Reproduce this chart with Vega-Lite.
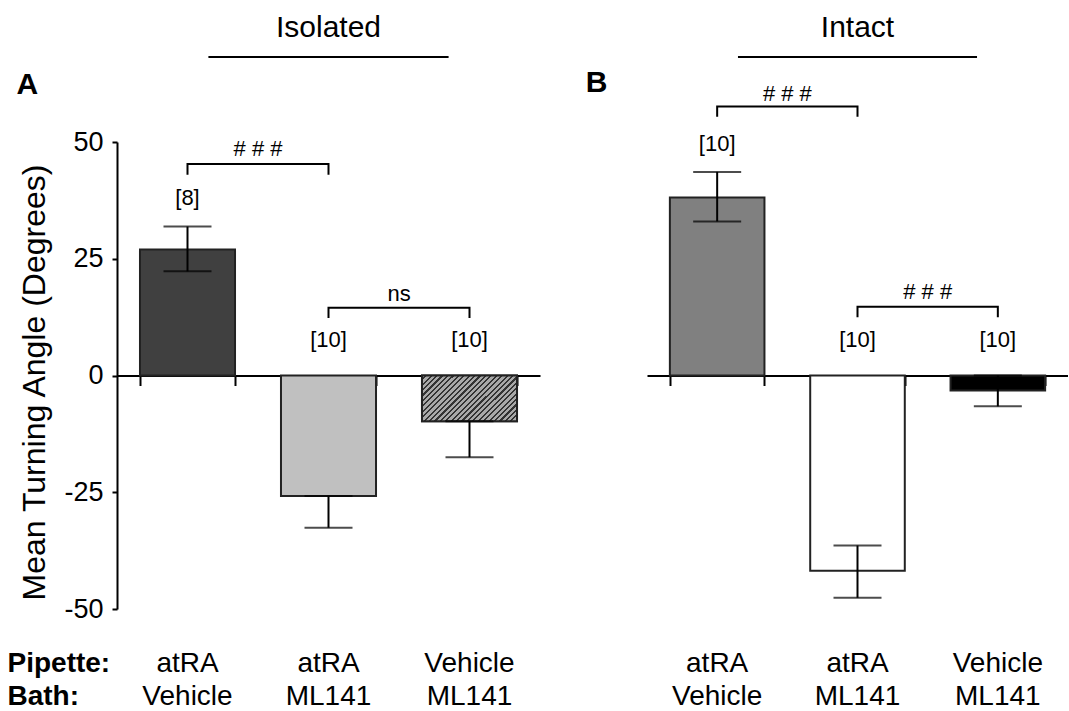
{
  "$schema": "https://vega.github.io/schema/vega-lite/v6.json",
  "background": "white",
  "padding": {"left": 7, "top": 12, "right": 0, "bottom": 0},
  "bounds": "flush",
  "spacing": 107,
  "config": {"font": "Liberation Sans", "view": {"stroke": null}},
  "resolve": {"scale": {"fill": "independent"}},
  "datasets": {
    "bars": [
      {"panel": "Isolated", "cond": "atRA / Vehicle", "mean": 27.0, "lo": 22.3, "hi": 31.9},
      {"panel": "Isolated", "cond": "atRA / ML141", "mean": -25.8, "lo": -32.6, "hi": -25.8},
      {"panel": "Isolated", "cond": "Vehicle / ML141", "mean": -9.8, "lo": -17.5, "hi": -9.8},
      {"panel": "Intact", "cond": "atRA / Vehicle", "mean": 38.1, "lo": 33.0, "hi": 43.6},
      {"panel": "Intact", "cond": "atRA / ML141", "mean": -41.8, "lo": -47.6, "hi": -36.4},
      {"panel": "Intact", "cond": "Vehicle / ML141", "mean": -3.2, "lo": -6.6, "hi": 0}
    ],
    "nlabels": [
      {"panel": "Isolated", "cond": "atRA / Vehicle", "text": "[8]", "y": 38},
      {"panel": "Isolated", "cond": "atRA / ML141", "text": "[10]", "y": 7.5},
      {"panel": "Isolated", "cond": "Vehicle / ML141", "text": "[10]", "y": 7.5},
      {"panel": "Intact", "cond": "atRA / Vehicle", "text": "[10]", "y": 49.6},
      {"panel": "Intact", "cond": "atRA / ML141", "text": "[10]", "y": 7.5},
      {"panel": "Intact", "cond": "Vehicle / ML141", "text": "[10]", "y": 7.5}
    ],
    "brackets": [
      {"panel": "Isolated", "id": "A1", "cond": "atRA / Vehicle", "y": 43.0, "k": 0},
      {"panel": "Isolated", "id": "A1", "cond": "atRA / Vehicle", "y": 45.3, "k": 1},
      {"panel": "Isolated", "id": "A1", "cond": "atRA / ML141", "y": 45.3, "k": 2},
      {"panel": "Isolated", "id": "A1", "cond": "atRA / ML141", "y": 43.0, "k": 3},
      {"panel": "Isolated", "id": "A2", "cond": "atRA / ML141", "y": 12.3, "k": 0},
      {"panel": "Isolated", "id": "A2", "cond": "atRA / ML141", "y": 14.5, "k": 1},
      {"panel": "Isolated", "id": "A2", "cond": "Vehicle / ML141", "y": 14.5, "k": 2},
      {"panel": "Isolated", "id": "A2", "cond": "Vehicle / ML141", "y": 12.3, "k": 3},
      {"panel": "Intact", "id": "B1", "cond": "atRA / Vehicle", "y": 55.4, "k": 0},
      {"panel": "Intact", "id": "B1", "cond": "atRA / Vehicle", "y": 57.6, "k": 1},
      {"panel": "Intact", "id": "B1", "cond": "atRA / ML141", "y": 57.6, "k": 2},
      {"panel": "Intact", "id": "B1", "cond": "atRA / ML141", "y": 55.4, "k": 3},
      {"panel": "Intact", "id": "B2", "cond": "atRA / ML141", "y": 12.5, "k": 0},
      {"panel": "Intact", "id": "B2", "cond": "atRA / ML141", "y": 14.7, "k": 1},
      {"panel": "Intact", "id": "B2", "cond": "Vehicle / ML141", "y": 14.7, "k": 2},
      {"panel": "Intact", "id": "B2", "cond": "Vehicle / ML141", "y": 12.5, "k": 3}
    ],
    "bracketLabels": [
      {"panel": "Isolated", "left": "atRA / Vehicle", "text": "# # #", "y": 48.6},
      {"panel": "Isolated", "left": "atRA / ML141", "text": "ns", "y": 17.5},
      {"panel": "Intact", "left": "atRA / Vehicle", "text": "# # #", "y": 60.3},
      {"panel": "Intact", "left": "atRA / ML141", "text": "# # #", "y": 17.9}
    ],
    "headers": [
      {"panel": "Isolated", "letter": "A", "first": "atRA / Vehicle", "mid": "atRA / ML141", "last": "Vehicle / ML141", "ytitle": 74.5, "yline": 68.2, "yletter": 62.3},
      {"panel": "Intact", "letter": "B", "first": "atRA / Vehicle", "mid": "atRA / ML141", "last": "Vehicle / ML141", "ytitle": 74.5, "yline": 68.2, "yletter": 62.7}
    ]
  },
  "hconcat": [
    {
      "width": 423,
      "height": 467,
      "resolve": {"axis": {"x": "independent"}},
      "layer": [
        {
          "data": {"name": "bars"},
          "transform": [{"filter": "datum.panel == 'Isolated'"}],
          "mark": {"type": "bar", "stroke": "#222222", "strokeWidth": 2},
          "encoding": {
            "x": {
              "field": "cond", "type": "nominal",
              "scale": {"domain": ["atRA / Vehicle", "atRA / ML141", "Vehicle / ML141"], "paddingInner": 0.326, "paddingOuter": 0.163},
              "axis": {
                "orient": "bottom", "domain": false, "ticks": false, "tickSize": 0, "grid": false,
                "labelExpr": "split(datum.value, ' / ')", "labelAngle": 0,
                "labelFontSize": 28, "labelColor": "black", "labelPadding": 40, "labelBaseline": "top", "labelLineHeight": 33,
                "title": ["Pipette:", "Bath:"], "titleFontSize": 28, "titleFontWeight": "bold", "titleColor": "black",
                "titleX": -110, "titleY": 40, "titleAlign": "left", "titleBaseline": "top", "titleAngle": 0, "titleLineHeight": 33
              }
            },
            "y": {
              "field": "mean", "type": "quantitative", "title": "Mean Turning Angle (Degrees)",
              "scale": {"domain": [-50, 50], "nice": false},
              "axis": {
                "values": [-50, -25, 0, 25, 50], "grid": false, "labelFlush": false, "labelOverlap": false,
                "labelExpr": "'' + datum.value",
                "title": "Mean Turning Angle (Degrees)", "titleFontSize": 32, "titleFontWeight": "normal", "titleColor": "black", "titlePadding": 12, "titleY": 240,
                "labelFontSize": 27, "labelColor": "black", "labelPadding": 9,
                "tickSize": 5, "tickWidth": 2, "tickColor": "black", "domainColor": "black", "domainWidth": 2
              }
            },
            "fill": {
              "field": "cond", "type": "nominal",
              "scale": {"domain": ["atRA / Vehicle", "atRA / ML141", "Vehicle / ML141"], "range": ["#404040", "#c0c0c0", "#a8a8a8"]},
              "legend": null
            }
          }
        },
        {
          "data": {"name": "bars"},
          "transform": [{"filter": "datum.panel == 'Isolated' && datum.cond == 'Vehicle / ML141'"}],
          "mark": {
            "type": "bar", "stroke": "#222222", "strokeWidth": 2,
            "fill": {
              "gradient": "linear", "x1": 0, "y1": 0, "x2": 1.203, "y2": 0.58,
              "stops": [
                {"offset": 0, "color": "#a8a8a8"}, {"offset": 0.0231, "color": "#a8a8a8"}, {"offset": 0.0231, "color": "#333333"}, {"offset": 0.0385, "color": "#333333"},
                {"offset": 0.0385, "color": "#a8a8a8"}, {"offset": 0.0615, "color": "#a8a8a8"}, {"offset": 0.0615, "color": "#333333"}, {"offset": 0.0769, "color": "#333333"},
                {"offset": 0.0769, "color": "#a8a8a8"}, {"offset": 0.1, "color": "#a8a8a8"}, {"offset": 0.1, "color": "#333333"}, {"offset": 0.1154, "color": "#333333"},
                {"offset": 0.1154, "color": "#a8a8a8"}, {"offset": 0.1385, "color": "#a8a8a8"}, {"offset": 0.1385, "color": "#333333"}, {"offset": 0.1538, "color": "#333333"},
                {"offset": 0.1538, "color": "#a8a8a8"}, {"offset": 0.1769, "color": "#a8a8a8"}, {"offset": 0.1769, "color": "#333333"}, {"offset": 0.1923, "color": "#333333"},
                {"offset": 0.1923, "color": "#a8a8a8"}, {"offset": 0.2154, "color": "#a8a8a8"}, {"offset": 0.2154, "color": "#333333"}, {"offset": 0.2308, "color": "#333333"},
                {"offset": 0.2308, "color": "#a8a8a8"}, {"offset": 0.2538, "color": "#a8a8a8"}, {"offset": 0.2538, "color": "#333333"}, {"offset": 0.2692, "color": "#333333"},
                {"offset": 0.2692, "color": "#a8a8a8"}, {"offset": 0.2923, "color": "#a8a8a8"}, {"offset": 0.2923, "color": "#333333"}, {"offset": 0.3077, "color": "#333333"},
                {"offset": 0.3077, "color": "#a8a8a8"}, {"offset": 0.3308, "color": "#a8a8a8"}, {"offset": 0.3308, "color": "#333333"}, {"offset": 0.3462, "color": "#333333"},
                {"offset": 0.3462, "color": "#a8a8a8"}, {"offset": 0.3692, "color": "#a8a8a8"}, {"offset": 0.3692, "color": "#333333"}, {"offset": 0.3846, "color": "#333333"},
                {"offset": 0.3846, "color": "#a8a8a8"}, {"offset": 0.4077, "color": "#a8a8a8"}, {"offset": 0.4077, "color": "#333333"}, {"offset": 0.4231, "color": "#333333"},
                {"offset": 0.4231, "color": "#a8a8a8"}, {"offset": 0.4462, "color": "#a8a8a8"}, {"offset": 0.4462, "color": "#333333"}, {"offset": 0.4615, "color": "#333333"},
                {"offset": 0.4615, "color": "#a8a8a8"}, {"offset": 0.4846, "color": "#a8a8a8"}, {"offset": 0.4846, "color": "#333333"}, {"offset": 0.5, "color": "#333333"},
                {"offset": 0.5, "color": "#a8a8a8"}, {"offset": 0.5231, "color": "#a8a8a8"}, {"offset": 0.5231, "color": "#333333"}, {"offset": 0.5385, "color": "#333333"},
                {"offset": 0.5385, "color": "#a8a8a8"}, {"offset": 0.5615, "color": "#a8a8a8"}, {"offset": 0.5615, "color": "#333333"}, {"offset": 0.5769, "color": "#333333"},
                {"offset": 0.5769, "color": "#a8a8a8"}, {"offset": 0.6, "color": "#a8a8a8"}, {"offset": 0.6, "color": "#333333"}, {"offset": 0.6154, "color": "#333333"},
                {"offset": 0.6154, "color": "#a8a8a8"}, {"offset": 0.6385, "color": "#a8a8a8"}, {"offset": 0.6385, "color": "#333333"}, {"offset": 0.6538, "color": "#333333"},
                {"offset": 0.6538, "color": "#a8a8a8"}, {"offset": 0.6769, "color": "#a8a8a8"}, {"offset": 0.6769, "color": "#333333"}, {"offset": 0.6923, "color": "#333333"},
                {"offset": 0.6923, "color": "#a8a8a8"}, {"offset": 0.7154, "color": "#a8a8a8"}, {"offset": 0.7154, "color": "#333333"}, {"offset": 0.7308, "color": "#333333"},
                {"offset": 0.7308, "color": "#a8a8a8"}, {"offset": 0.7538, "color": "#a8a8a8"}, {"offset": 0.7538, "color": "#333333"}, {"offset": 0.7692, "color": "#333333"},
                {"offset": 0.7692, "color": "#a8a8a8"}, {"offset": 0.7923, "color": "#a8a8a8"}, {"offset": 0.7923, "color": "#333333"}, {"offset": 0.8077, "color": "#333333"},
                {"offset": 0.8077, "color": "#a8a8a8"}, {"offset": 0.8308, "color": "#a8a8a8"}, {"offset": 0.8308, "color": "#333333"}, {"offset": 0.8462, "color": "#333333"},
                {"offset": 0.8462, "color": "#a8a8a8"}, {"offset": 0.8692, "color": "#a8a8a8"}, {"offset": 0.8692, "color": "#333333"}, {"offset": 0.8846, "color": "#333333"},
                {"offset": 0.8846, "color": "#a8a8a8"}, {"offset": 0.9077, "color": "#a8a8a8"}, {"offset": 0.9077, "color": "#333333"}, {"offset": 0.9231, "color": "#333333"},
                {"offset": 0.9231, "color": "#a8a8a8"}, {"offset": 0.9462, "color": "#a8a8a8"}, {"offset": 0.9462, "color": "#333333"}, {"offset": 0.9615, "color": "#333333"},
                {"offset": 0.9615, "color": "#a8a8a8"}, {"offset": 0.9846, "color": "#a8a8a8"}, {"offset": 0.9846, "color": "#333333"}, {"offset": 1, "color": "#333333"}
              ]
            }
          },
          "encoding": {
            "x": {"field": "cond", "type": "nominal", "axis": null},
            "y": {"field": "mean", "type": "quantitative", "title": "Mean Turning Angle (Degrees)"}
          }
        },
        {
          "data": {"name": "bars"},
          "transform": [{"filter": "datum.panel == 'Isolated'"}],
          "mark": {"type": "errorbar", "ticks": {"size": 48, "thickness": 2, "color": "black"}, "rule": {"strokeWidth": 2, "color": "black"}},
          "encoding": {
            "x": {"field": "cond", "type": "nominal", "axis": null},
            "y": {"field": "lo", "type": "quantitative", "title": "Mean Turning Angle (Degrees)"},
            "y2": {"field": "hi"}
          }
        },
        {
          "data": {"name": "nlabels"},
          "transform": [{"filter": "datum.panel == 'Isolated'"}],
          "mark": {"type": "text", "fontSize": 22, "color": "black", "baseline": "middle", "align": "center"},
          "encoding": {
            "x": {
              "field": "cond", "type": "nominal",
              "axis": {
                "orient": "bottom", "offset": -233.5, "labels": false, "title": null, "grid": false,
                "domain": true, "domainColor": "black", "domainWidth": 2,
                "ticks": true, "tickBand": "extent", "tickSize": 10, "tickWidth": 2, "tickColor": "black"
              }
            },
            "y": {"field": "y", "type": "quantitative", "title": "Mean Turning Angle (Degrees)"},
            "text": {"field": "text"}
          }
        },
        {
          "data": {"name": "brackets"},
          "transform": [{"filter": "datum.panel == 'Isolated'"}],
          "mark": {"type": "line", "color": "black", "strokeWidth": 2},
          "encoding": {
            "x": {"field": "cond", "type": "nominal", "axis": null},
            "y": {"field": "y", "type": "quantitative", "title": "Mean Turning Angle (Degrees)"},
            "detail": {"field": "id"},
            "order": {"field": "k"}
          }
        },
        {
          "data": {"name": "bracketLabels"},
          "transform": [{"filter": "datum.panel == 'Isolated'"}],
          "mark": {"type": "text", "fontSize": 22, "color": "black", "baseline": "middle", "align": "center"},
          "encoding": {
            "x": {"field": "left", "type": "nominal", "bandPosition": 1.242, "axis": null},
            "y": {"field": "y", "type": "quantitative", "title": "Mean Turning Angle (Degrees)"},
            "text": {"field": "text"}
          }
        },
        {
          "data": {"name": "headers"},
          "transform": [{"filter": "datum.panel == 'Isolated'"}],
          "mark": {"type": "text", "fontSize": 30, "color": "black", "baseline": "middle", "align": "center"},
          "encoding": {
            "x": {"field": "mid", "type": "nominal", "axis": null},
            "y": {"field": "ytitle", "type": "quantitative", "title": "Mean Turning Angle (Degrees)"},
            "text": {"field": "panel"}
          }
        },
        {
          "data": {"name": "headers"},
          "transform": [{"filter": "datum.panel == 'Isolated'"}],
          "mark": {"type": "rule", "color": "black", "strokeWidth": 2},
          "encoding": {
            "x": {"field": "first", "type": "nominal", "bandPosition": 0.72, "axis": null},
            "x2": {"field": "last", "bandPosition": 0.28},
            "y": {"field": "yline", "type": "quantitative", "title": "Mean Turning Angle (Degrees)"}
          }
        },
        {
          "data": {"name": "headers"},
          "transform": [{"filter": "datum.panel == 'Isolated'"}],
          "mark": {"type": "text", "fontSize": 30, "fontWeight": "bold", "color": "black", "baseline": "middle", "align": "left"},
          "encoding": {
            "x": {"field": "first", "type": "nominal", "bandPosition": -1.3, "axis": null},
            "y": {"field": "yletter", "type": "quantitative", "title": "Mean Turning Angle (Degrees)"},
            "text": {"field": "letter"}
          }
        }
      ]
    },
    {
      "width": 421,
      "height": 467,
      "resolve": {"axis": {"x": "independent"}},
      "layer": [
        {
          "data": {"name": "bars"},
          "transform": [{"filter": "datum.panel == 'Intact'"}],
          "mark": {"type": "bar", "stroke": "#222222", "strokeWidth": 2},
          "encoding": {
            "x": {
              "field": "cond", "type": "nominal",
              "scale": {"domain": ["atRA / Vehicle", "atRA / ML141", "Vehicle / ML141"], "paddingInner": 0.326, "paddingOuter": 0.163},
              "axis": {
                "orient": "bottom", "domain": false, "ticks": false, "tickSize": 0, "grid": false,
                "labelExpr": "split(datum.value, ' / ')", "labelAngle": 0,
                "labelFontSize": 28, "labelColor": "black", "labelPadding": 40, "labelBaseline": "top", "labelLineHeight": 33,
                "title": null
              }
            },
            "y": {"field": "mean", "type": "quantitative", "scale": {"domain": [-50, 50], "nice": false}, "axis": null},
            "fill": {
              "field": "cond", "type": "nominal",
              "scale": {"domain": ["atRA / Vehicle", "atRA / ML141", "Vehicle / ML141"], "range": ["#808080", "#ffffff", "#000000"]},
              "legend": null
            }
          }
        },
        {
          "data": {"name": "bars"},
          "transform": [{"filter": "datum.panel == 'Intact'"}],
          "mark": {"type": "errorbar", "ticks": {"size": 48, "thickness": 2, "color": "black"}, "rule": {"strokeWidth": 2, "color": "black"}},
          "encoding": {
            "x": {"field": "cond", "type": "nominal", "axis": null},
            "y": {"field": "lo", "type": "quantitative", "axis": null},
            "y2": {"field": "hi"}
          }
        },
        {
          "data": {"name": "nlabels"},
          "transform": [{"filter": "datum.panel == 'Intact'"}],
          "mark": {"type": "text", "fontSize": 22, "color": "black", "baseline": "middle", "align": "center"},
          "encoding": {
            "x": {
              "field": "cond", "type": "nominal",
              "axis": {
                "orient": "bottom", "offset": -233.5, "labels": false, "title": null, "grid": false,
                "domain": true, "domainColor": "black", "domainWidth": 2,
                "ticks": true, "tickBand": "extent", "tickSize": 10, "tickWidth": 2, "tickColor": "black"
              }
            },
            "y": {"field": "y", "type": "quantitative", "axis": null},
            "text": {"field": "text"}
          }
        },
        {
          "data": {"name": "brackets"},
          "transform": [{"filter": "datum.panel == 'Intact'"}],
          "mark": {"type": "line", "color": "black", "strokeWidth": 2},
          "encoding": {
            "x": {"field": "cond", "type": "nominal", "axis": null},
            "y": {"field": "y", "type": "quantitative", "axis": null},
            "detail": {"field": "id"},
            "order": {"field": "k"}
          }
        },
        {
          "data": {"name": "bracketLabels"},
          "transform": [{"filter": "datum.panel == 'Intact'"}],
          "mark": {"type": "text", "fontSize": 22, "color": "black", "baseline": "middle", "align": "center"},
          "encoding": {
            "x": {"field": "left", "type": "nominal", "bandPosition": 1.242, "axis": null},
            "y": {"field": "y", "type": "quantitative", "axis": null},
            "text": {"field": "text"}
          }
        },
        {
          "data": {"name": "headers"},
          "transform": [{"filter": "datum.panel == 'Intact'"}],
          "mark": {"type": "text", "fontSize": 30, "color": "black", "baseline": "middle", "align": "center"},
          "encoding": {
            "x": {"field": "mid", "type": "nominal", "axis": null},
            "y": {"field": "ytitle", "type": "quantitative", "axis": null},
            "text": {"field": "panel"}
          }
        },
        {
          "data": {"name": "headers"},
          "transform": [{"filter": "datum.panel == 'Intact'"}],
          "mark": {"type": "rule", "color": "black", "strokeWidth": 2},
          "encoding": {
            "x": {"field": "first", "type": "nominal", "bandPosition": 0.72, "axis": null},
            "x2": {"field": "last", "bandPosition": 0.28},
            "y": {"field": "yline", "type": "quantitative", "axis": null}
          }
        },
        {
          "data": {"name": "headers"},
          "transform": [{"filter": "datum.panel == 'Intact'"}],
          "mark": {"type": "text", "fontSize": 30, "fontWeight": "bold", "color": "black", "baseline": "middle", "align": "left"},
          "encoding": {
            "x": {"field": "first", "type": "nominal", "bandPosition": -0.89, "axis": null},
            "y": {"field": "yletter", "type": "quantitative", "axis": null},
            "text": {"field": "letter"}
          }
        }
      ]
    }
  ]
}
